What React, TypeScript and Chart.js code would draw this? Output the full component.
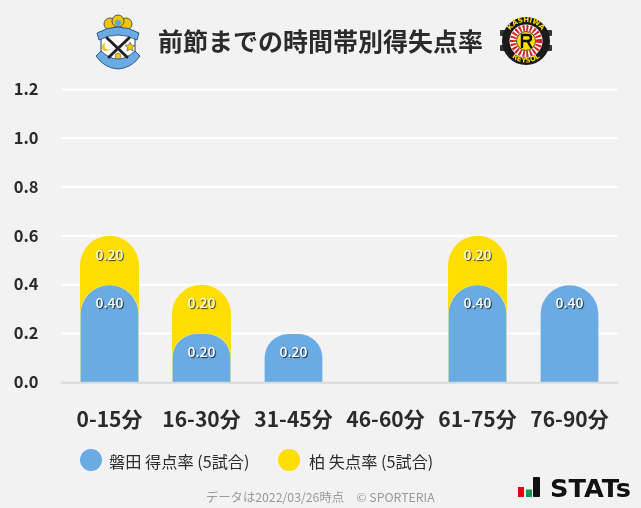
import React, { useEffect, useRef } from "react";
import { Chart, registerables } from "chart.js";

Chart.register(...registerables);

const categories = ["0-15分", "16-30分", "31-45分", "46-60分", "61-75分", "76-90分"];
const iwataScored = [0.4, 0.2, 0.2, 0, 0.4, 0.4];
const kashiwaConceded = [0.2, 0.2, 0, 0, 0.2, 0];
const yTicks = [0, 0.2, 0.4, 0.6, 0.8, 1.0, 1.2];
const titleText = "前節までの時間帯別得失点率";
const iwataLabel = "磐田 得点率 (5試合)";
const kashiwaLabel = "柏 失点率 (5試合)";
const footText = "データは2022/03/26時点　© SPORTERIA";

const BLUE = "#6aabe4";
const YELLOW = "#ffde00";
const FONT = '"Noto Sans CJK JP", "Noto Sans", sans-serif';
const TEXT = "#2b2b2b";

const drawLine = (ctx: any, py: number, color: string) => {
  ctx.beginPath();
  ctx.moveTo(61, py);
  ctx.lineTo(618, py);
  ctx.lineWidth = 2;
  ctx.strokeStyle = color;
  ctx.stroke();
};

const gridPlugin = {
  id: "fullGrid",
  beforeDatasetsDraw(chart: any) {
    const { ctx, scales } = chart;
    const y = scales.y;
    ctx.save();
    y.ticks.forEach((t: any, i: number) => {
      if (t.value !== 0) drawLine(ctx, y.getPixelForTick(i), "#ffffff");
    });
    ctx.restore();
  },
  afterDatasetsDraw(chart: any) {
    const { ctx, scales } = chart;
    ctx.save();
    drawLine(ctx, scales.y.getPixelForValue(0) + 0.5, "#d9d9d9");
    ctx.restore();
  },
};

const valueLabelPlugin = {
  id: "valueLabels",
  afterDatasetsDraw(chart: any) {
    const { ctx } = chart;
    ctx.save();
    ctx.font = `500 14px ${FONT}`;
    ctx.textAlign = "center";
    ctx.textBaseline = "middle";
    ctx.fillStyle = "#ffffff";
    ctx.shadowColor = "rgba(0,0,0,0.75)";
    ctx.shadowOffsetX = 1;
    ctx.shadowOffsetY = 1;
    ctx.shadowBlur = 1;
    chart.data.datasets.forEach((ds: any, di: number) => {
      const meta = chart.getDatasetMeta(di);
      meta.data.forEach((el: any, i: number) => {
        const v = ds.shownValues[i];
        if (!v) return;
        ctx.fillText(v.toFixed(2), el.x, el.y + 18.5);
      });
    });
    ctx.restore();
  },
};

function JubiloLogo() {
  return (
    <svg style={{ position: "absolute", left: 94, top: 14 }} width="48" height="56" viewBox="0 0 48 56">
      <circle cx="16" cy="10" r="6" fill="#f4c400" stroke="#1e3a78" strokeWidth="0.8" />
      <circle cx="32" cy="10" r="6" fill="#f4c400" stroke="#1e3a78" strokeWidth="0.8" />
      <circle cx="24" cy="7" r="6" fill="#f4c400" stroke="#1e3a78" strokeWidth="0.8" />
      <circle cx="24" cy="9" r="3" fill="#5aa5dc" />
      <path d="M7 20 Q24 12 41 20 L41 40 Q34 50 24 53 Q14 50 7 40 Z" fill="#ffffff" stroke="#1e3a78" strokeWidth="1" />
      <path d="M3 19 Q24 7 45 19 L43 26 Q24 16 5 26 Z" fill="#6aabe4" stroke="#1e3a78" strokeWidth="0.8" />
      <path d="M2 42 L7 37 Q24 53 41 37 L46 42 Q38 54 24 55 Q10 54 2 42 Z" fill="#6aabe4" stroke="#1e3a78" strokeWidth="0.8" />
      <path d="M13 24 L33 43 M35 24 L15 43" stroke="#222" strokeWidth="3" strokeLinecap="round" />
      <circle cx="12" cy="33" r="4" fill="#f4c400" />
      <circle cx="14" cy="32" r="3.4" fill="#ffffff" />
      <path d="M36 28 l1.5 3 3.4 .4 -2.5 2.3 .7 3.4 -3.1 -1.8 -3.1 1.8 .7 -3.4 -2.5 -2.3 3.4 -.4 Z" fill="#f4c400" stroke="#1e3a78" strokeWidth="0.5" />
      <circle cx="24" cy="42" r="3" fill="#f4c400" stroke="#1e3a78" strokeWidth="0.4" />
    </svg>
  );
}

function KashiwaLogo() {
  return (
    <svg style={{ position: "absolute", left: 498, top: 15 }} width="56" height="52" viewBox="0 0 56 52">
      <rect x="2" y="15" width="52" height="6" rx="1" fill="#333" />
      <rect x="2" y="30" width="52" height="6" rx="1" fill="#333" />
      <circle cx="28" cy="26" r="24" fill="#1a1a1a" />
      <defs>
        <path id="kTop" d="M9 26 A19 19 0 0 1 47 26" />
        <path id="kBot" d="M6.5 26 A21.5 21.5 0 0 0 49.5 26" />
      </defs>
      <text fontSize="7" fontWeight="700" fill="#ffde00" fontFamily="'DejaVu Sans', sans-serif">
        <textPath href="#kTop" startOffset="50%" textAnchor="middle">KASHIWA</textPath>
      </text>
      <text fontSize="7" fontWeight="700" fill="#ffde00" fontFamily="'DejaVu Sans', sans-serif">
        <textPath href="#kBot" startOffset="50%" textAnchor="middle">REYSOL</textPath>
      </text>
      <circle cx="28" cy="26" r="16.5" fill="#ffffff" />
      <circle cx="28" cy="26" r="13" fill="none" stroke="#d8232a" strokeWidth="6" strokeDasharray="2 1.6" />
      <circle cx="28" cy="26" r="9.5" fill="#ffde00" stroke="#222" strokeWidth="0.8" />
      <path d="M24 33 V20 H30 Q33 20 33 23 Q33 26 29.5 26 L33.5 33 M24 26 H29.5" fill="none" stroke="#111" strokeWidth="2.4" />
    </svg>
  );
}

function StatsLogo() {
  return (
    <svg style={{ position: "absolute", left: 510, top: 470 }} width="131" height="38" viewBox="0 0 131 38">
      <rect x="8" y="17" width="6" height="10" fill="#e60012" />
      <rect x="16" y="19.5" width="6" height="7.5" fill="#149a4a" />
      <rect x="23" y="7" width="7" height="20" rx="1" fill="#111" />
      <text x="40" y="27" textLength="81" lengthAdjust="spacingAndGlyphs" fontFamily="'DejaVu Sans', sans-serif" fontWeight="700" fontSize="24" fill="#111">STATs</text>
    </svg>
  );
}

const abs = (left: number, top: number): React.CSSProperties => ({
  position: "absolute",
  left,
  top,
  whiteSpace: "nowrap",
  fontFamily: FONT,
});

export default function App() {
  const ref = useRef<HTMLCanvasElement>(null);

  useEffect(() => {
    const chart = new Chart(ref.current as HTMLCanvasElement, {
      type: "bar",
      data: {
        labels: categories,
        datasets: [
          {
            label: iwataLabel,
            data: iwataScored.map((v) => (v > 0 ? v : null)),
            shownValues: iwataScored,
            backgroundColor: BLUE,
            borderColor: "#d5e6f6",
            borderWidth: 0.7,
            borderSkipped: "bottom",
            borderRadius: { topLeft: 30, topRight: 30, bottomLeft: 0, bottomRight: 0 },
            order: 1,
          },
          {
            label: kashiwaLabel,
            data: kashiwaConceded.map((v, i) => (v > 0 ? v + iwataScored[i] : null)),
            shownValues: kashiwaConceded,
            backgroundColor: YELLOW,
            borderWidth: 0,
            borderRadius: { topLeft: 30, topRight: 30, bottomLeft: 0, bottomRight: 0 },
            order: 2,
          },
        ] as any,
      },
      options: {
        responsive: false,
        animation: false,
        maintainAspectRatio: false,
        layout: { padding: { top: 89.5, left: 0, right: 25.5, bottom: 0 } },
        datasets: { bar: { grouped: false, barPercentage: 1, categoryPercentage: 0.641 } },
        plugins: { legend: { display: false }, tooltip: { enabled: false } },
        scales: {
          x: {
            grid: { display: false, drawTicks: false },
            border: { display: false },
            ticks: {
              color: TEXT,
              font: { family: FONT, size: 21, weight: "bold" },
              padding: 24,
              maxRotation: 0,
              autoSkip: false,
            },
            afterFit: (s: any) => {
              s.height = 125.8;
            },
          },
          y: {
            min: 0,
            max: 1.2,
            afterBuildTicks: (s: any) => {
              s.ticks = yTicks.map((value) => ({ value }));
            },
            grid: { display: false, drawTicks: false },
            border: { display: false },
            ticks: {
              color: TEXT,
              font: { family: FONT, size: 16.5, weight: "bold" },
              padding: 25,
              labelOffset: -0.5,
              callback: (v: any) => Number(v).toFixed(1),
            },
            afterFit: (s: any) => {
              s.width = 63.5;
            },
          },
        },
      } as any,
      plugins: [gridPlugin, valueLabelPlugin],
    });
    return () => chart.destroy();
  }, []);

  return (
    <div style={{ position: "fixed", left: 0, top: 0, width: 641, height: 508, background: "#f2f2f2", overflow: "hidden" }}>
      <canvas ref={ref} width={641} height={508} style={{ position: "absolute", left: 0, top: 0 }} />
      <JubiloLogo />
      <KashiwaLogo />
      <div style={{ ...abs(158, 22), fontSize: 25, lineHeight: "36px", fontWeight: 700, color: "#2b2b2b" }}>{titleText}</div>
      <div style={{ ...abs(80, 449), width: 22, height: 22, borderRadius: "50%", background: BLUE }} />
      <div style={{ ...abs(109, 450), fontSize: 16.2, lineHeight: "22px", color: TEXT }}>{iwataLabel}</div>
      <div style={{ ...abs(278, 449), width: 22, height: 22, borderRadius: "50%", background: YELLOW }} />
      <div style={{ ...abs(309, 450), fontSize: 16.2, lineHeight: "22px", color: TEXT }}>{kashiwaLabel}</div>
      <div style={{ ...abs(206, 488), fontSize: 12.3, lineHeight: "18px", color: "#999999" }}>{footText}</div>
      <StatsLogo />
    </div>
  );
}
